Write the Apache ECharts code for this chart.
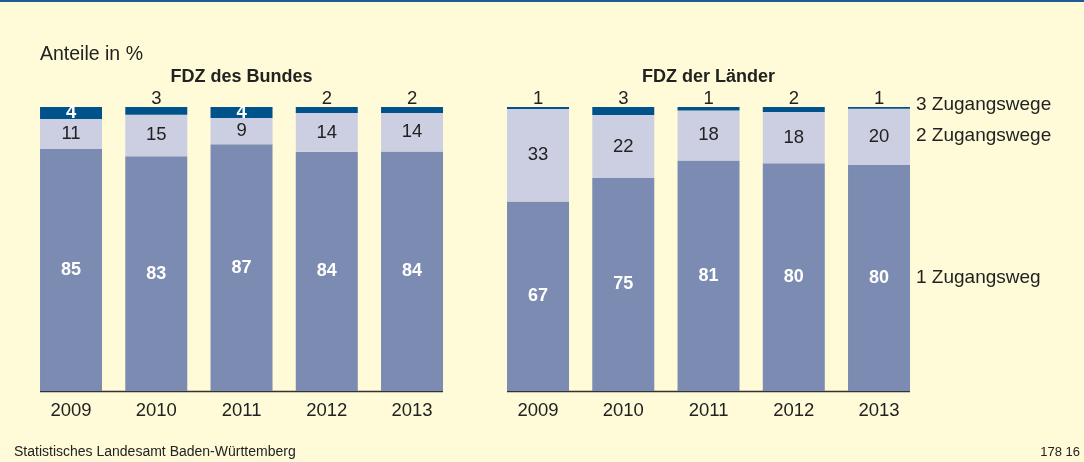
<!DOCTYPE html>
<html>
<head>
<meta charset="utf-8">
<script src="https://cdn.jsdelivr.net/npm/echarts@6/dist/echarts.min.js"></script>
<style>
  html, body { margin: 0; padding: 0; background: #fffbd8; }
  #chart { width: 1084px; height: 462px; }
</style>
</head>
<body>
<div id="chart"></div>
<script>
var years = ['2009', '2010', '2011', '2012', '2013'];
// FDZ des Bundes, Anteile in % (Beschriftung = gerundet)
var bundEins = [85.2, 82.7, 86.9, 84.2, 84.3];
var bundZwei = [10.6, 14.6, 9.2, 13.7, 13.6];
var bundDrei = [4.2, 2.7, 3.9, 2.1, 2.1];
// FDZ der Länder
var landEins = [66.7, 75.0, 81.2, 80.2, 79.6];
var landZwei = [32.6, 22.2, 17.6, 18.0, 19.8];
var landDrei = [0.7, 2.8, 1.2, 1.8, 0.6];
var serienNamen = ['1 Zugangsweg', '2 Zugangswege', '3 Zugangswege'];
var panelTitel = ['FDZ des Bundes', 'FDZ der Länder'];

var farben = ['#7b8bb2', '#cccfe2', '#00538a'];
var schrift = '"Liberation Sans", Arial, sans-serif';
var textFarbe = '#222';

function runden(p) {
  return Math.round(p.value);
}

// obere Werte: grosse Werte weiss im Balken, kleine darueber
function obenDaten(werte) {
  return werte.map(function (v) {
    if (v >= 3.5) {
      return { value: v, label: { position: 'inside', color: '#fff', fontWeight: 'bold' } };
    }
    return { value: v, label: { position: 'top', distance: -1, color: textFarbe, fontWeight: 'normal' } };
  });
}

function serien(idx, eins, zwei, drei) {
  var basis = { type: 'bar', stack: 'panel' + idx, xAxisIndex: idx, yAxisIndex: idx, barWidth: 62 };
  return [
    Object.assign({}, basis, {
      name: serienNamen[0], data: eins, itemStyle: { color: farben[0] },
      label: { show: true, color: '#fff', fontWeight: 'bold', fontSize: 18, fontFamily: schrift, formatter: runden }
    }),
    Object.assign({}, basis, {
      name: serienNamen[1], data: zwei, itemStyle: { color: farben[1] },
      label: { show: true, color: textFarbe, fontSize: 18.5, fontFamily: schrift, formatter: runden }
    }),
    Object.assign({}, basis, {
      name: serienNamen[2], data: obenDaten(drei), itemStyle: { color: farben[2] },
      label: { show: true, fontSize: 18.5, fontFamily: schrift, formatter: runden }
    })
  ];
}

function xAchse(idx) {
  return {
    type: 'category', gridIndex: idx, data: years,
    axisLine: { show: false }, axisTick: { show: false },
    axisLabel: { color: textFarbe, fontSize: 18.5, fontFamily: schrift, margin: 10 }
  };
}

function yAchse(idx) {
  return { type: 'value', gridIndex: idx, min: 0, max: 100, show: false, splitLine: { show: false } };
}

function text(x, y, inhalt, extra) {
  return {
    type: 'text', x: x, y: y, silent: true,
    style: Object.assign({ text: inhalt, fill: textFarbe, font: '19px ' + schrift, verticalAlign: 'middle' }, extra || {})
  };
}

var myChart = echarts.init(document.getElementById('chart'));
var option = {
  backgroundColor: '#fffbd8',
  animation: false,
  grid: [
    { left: 28.4, top: 107, width: 426.25, height: 284 },
    { left: 495.4, top: 107, width: 426.25, height: 284 }
  ],
  xAxis: [xAchse(0), xAchse(1)],
  yAxis: [yAchse(0), yAchse(1)],
  series: serien(0, bundEins, bundZwei, bundDrei).concat(serien(1, landEins, landZwei, landDrei)),
  graphic: [
    { type: 'rect', shape: { x: 0, y: 0, width: 1084, height: 2 }, style: { fill: '#1d5c94' }, silent: true },
    // Grundlinien
    { type: 'line', shape: { x1: 40, y1: 391.5, x2: 443, y2: 391.5 }, style: { stroke: '#333', lineWidth: 1.5 }, silent: true },
    { type: 'line', shape: { x1: 507, y1: 391.5, x2: 910, y2: 391.5 }, style: { stroke: '#333', lineWidth: 1.5 }, silent: true },
    text(40, 55, 'Anteile in %', { font: '19.5px ' + schrift }),
    text(241.5, 77, panelTitel[0], { align: 'center', font: 'bold 18px ' + schrift }),
    text(708.5, 77, panelTitel[1], { align: 'center', font: 'bold 18px ' + schrift }),
    text(916, 105, serienNamen[2]),
    text(916, 136, serienNamen[1]),
    text(916, 278, serienNamen[0]),
    text(14, 452, 'Statistisches Landesamt Baden-Württemberg', { font: '14px ' + schrift }),
    text(1080, 452, '178 16', { align: 'right', font: '13px ' + schrift })
  ]
};
myChart.setOption(option);
</script>
</body>
</html>
